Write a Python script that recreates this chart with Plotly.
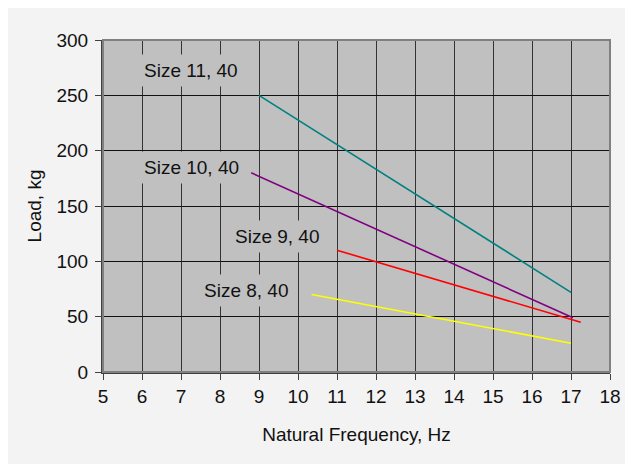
import plotly.graph_objects as go

# natural frequency (Hz) vs load (kg) for each mount size
size11_x = [9.0, 17.0]
size11_y = [250, 72]
size10_x = [8.8, 17.05]
size10_y = [180, 49]
size9_x = [11.0, 17.25]
size9_y = [110, 45]
size8_x = [10.35, 17.0]
size8_y = [70, 26]

label_text = ["Size 11, 40", "Size 10, 40", "Size 9, 40", "Size 8, 40"]
label_x = [7.26, 7.26, 9.47, 8.67]
label_y = [272, 185, 122, 74]

x_ticks = list(range(5, 19))
y_ticks = list(range(0, 301, 50))

FONT = "Liberation Sans, Arial, Helvetica, sans-serif"

fig = go.Figure()
for xs, ys, col in [
    (size11_x, size11_y, "#008080"),
    (size10_x, size10_y, "#800080"),
    (size9_x, size9_y, "#ff0000"),
    (size8_x, size8_y, "#ffff00"),
]:
    fig.add_trace(go.Scatter(x=xs, y=ys, mode="lines",
                             line=dict(color=col, width=1.6),
                             showlegend=False, hoverinfo="skip"))

for t, x, y in zip(label_text, label_x, label_y):
    fig.add_annotation(x=x, y=y, text=t, showarrow=False,
                       bgcolor="#c0c0c0", borderpad=5,
                       font=dict(size=19, color="#111111", family=FONT))

# plot border (top/right grey)
fig.add_shape(type="rect", xref="paper", yref="paper", layer="above",
              x0=0, x1=1, y0=0, y1=1,
              line=dict(color="#808080", width=2))

# page body adds 8px offset, so figure is 8px smaller than window
fig.update_layout(
    width=625, height=456,
    margin=dict(l=95, r=23, t=32, b=92),
    paper_bgcolor="#f3f3f3",
    plot_bgcolor="#c0c0c0",
    font=dict(family=FONT, size=19, color="#111111"),
)
fig.update_xaxes(
    range=[5, 18], tickvals=x_ticks, showgrid=True,
    gridcolor="#333333", gridwidth=1,
    showline=True, linecolor="#404040", linewidth=2,
    ticks="outside", ticklen=6, tickcolor="#404040",
    zeroline=False,
    title=dict(text="Natural Frequency, Hz", standoff=22,
               font=dict(size=19)),
)
fig.update_yaxes(
    range=[0, 300], tickvals=y_ticks, showgrid=True,
    gridcolor="#111111", gridwidth=1,
    showline=True, linecolor="#404040", linewidth=2,
    ticks="outside", ticklen=6, tickcolor="#404040",
    ticklabelstandoff=3,
    zeroline=False,
    title=dict(text="Load, kg", standoff=10, font=dict(size=19)),
)

fig.write_html("out.html")
